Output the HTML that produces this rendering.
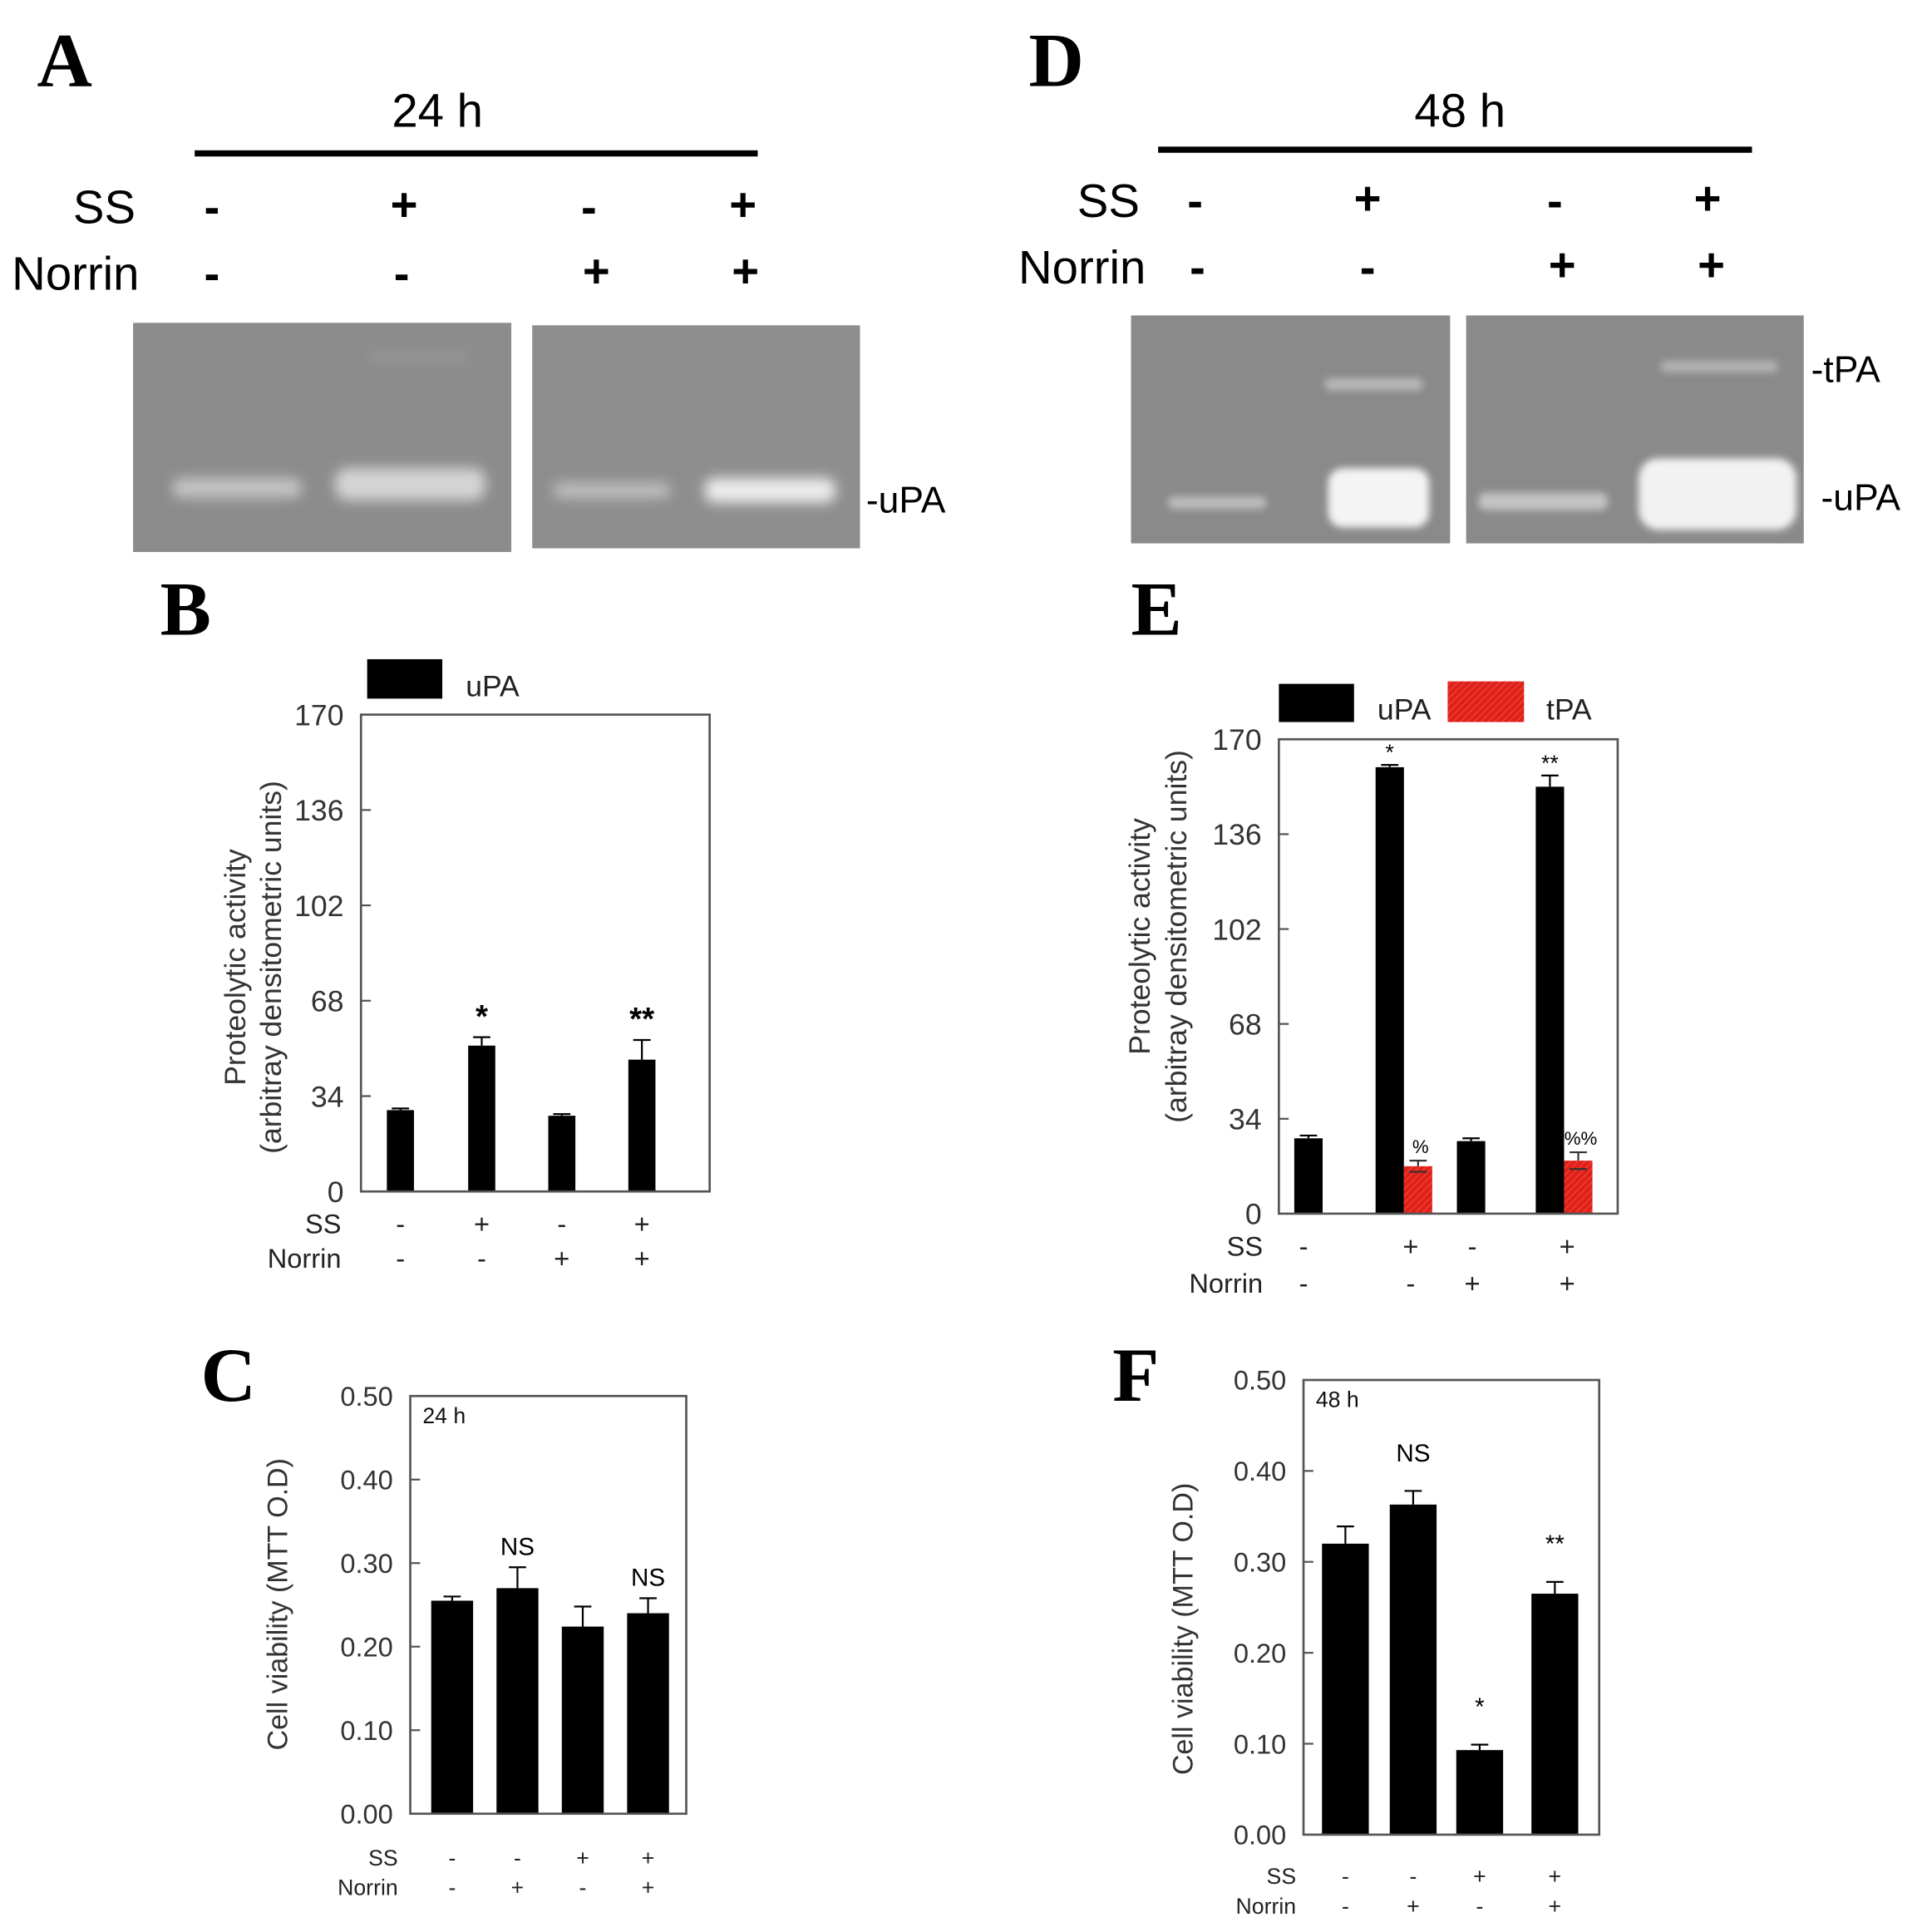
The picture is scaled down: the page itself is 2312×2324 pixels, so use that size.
<!DOCTYPE html>
<html><head><meta charset="utf-8"><style>
html,body{margin:0;padding:0;background:#fff;}
svg{display:block;}
text{font-family:"Liberation Sans",sans-serif;}
.big{font-family:"Liberation Serif",serif;font-weight:bold;font-size:62px;}
</style></head><body>
<svg id="fig" width="2312" height="2324" viewBox="0 0 1560 1568" preserveAspectRatio="none" xmlns="http://www.w3.org/2000/svg">
<defs>
<filter id="blur" x="-50%" y="-200%" width="200%" height="500%"><feGaussianBlur stdDeviation="5"/></filter>
<filter id="blur2" x="-50%" y="-200%" width="200%" height="500%"><feGaussianBlur stdDeviation="3"/></filter>
<pattern id="hatch" width="4" height="4" patternUnits="userSpaceOnUse" patternTransform="rotate(45)"><rect width="4" height="4" fill="#e0201a"/><line x1="0" y1="0" x2="0" y2="4" stroke="#f06050" stroke-width="1"/></pattern>
</defs>

<g>
<text class="big" x="30" y="70">A</text>
<text x="355" y="103" font-size="38" text-anchor="middle">24 h</text>
<rect x="158" y="122" width="457" height="5" fill="#000"/>
<text x="110" y="181" font-size="38" text-anchor="end">SS</text>
<text x="113" y="235" font-size="38" text-anchor="end">Norrin</text>
<g font-size="38" text-anchor="middle" font-weight="bold">
<text x="172" y="181">-</text><text x="328" y="179">+</text><text x="478" y="181">-</text><text x="603" y="179">+</text>
<text x="172" y="235">-</text><text x="326" y="235">-</text><text x="484" y="233">+</text><text x="605" y="233">+</text>
</g>
<rect x="108" y="262" width="307" height="186" fill="#8c8c8c"/>
<rect x="432" y="264" width="266" height="181" fill="#8e8e8e"/>
<g filter="url(#blur)">
<rect x="140" y="388" width="105" height="16" rx="8" fill="#c4c4c4"/>
<rect x="272" y="380" width="122" height="26" rx="10" fill="#d4d4d4"/>
<rect x="449" y="392" width="95" height="12" rx="6" fill="#c0c0c0"/>
<rect x="572" y="388" width="106" height="20" rx="8" fill="#ececec"/>
<rect x="300" y="287" width="80" height="6" fill="#9a9a9a"/>
</g>
<text x="703" y="416" font-size="30">-uPA</text>
</g>

<g>
<text class="big" x="835" y="70">D</text>
<text x="1185" y="103" font-size="38" text-anchor="middle">48 h</text>
<rect x="940" y="119" width="482" height="5" fill="#000"/>
<text x="925" y="176" font-size="38" text-anchor="end">SS</text>
<text x="930" y="230" font-size="38" text-anchor="end">Norrin</text>
<g font-size="38" text-anchor="middle" font-weight="bold">
<text x="970" y="176">-</text><text x="1110" y="174">+</text><text x="1262" y="176">-</text><text x="1386" y="174">+</text>
<text x="972" y="230">-</text><text x="1110" y="230">-</text><text x="1268" y="228">+</text><text x="1389" y="228">+</text>
</g>
<rect x="918" y="256" width="259" height="185" fill="#8a8a8a"/>
<rect x="1190" y="256" width="274" height="185" fill="#8a8a8a"/>
<g filter="url(#blur2)">
<rect x="948" y="403" width="80" height="10" rx="5" fill="#bdbdbd"/>
<rect x="1075" y="307" width="80" height="10" rx="5" fill="#b8b8b8"/>
<rect x="1078" y="380" width="82" height="48" rx="12" fill="#f4f4f4"/>
<rect x="1200" y="400" width="105" height="14" rx="6" fill="#c4c4c4"/>
<rect x="1348" y="293" width="95" height="9" rx="4" fill="#b4b4b4"/>
<rect x="1330" y="372" width="128" height="58" rx="16" fill="#f2f2f2"/>
</g>
<text x="1470" y="310" font-size="30">-tPA</text>
<text x="1478" y="414" font-size="30">-uPA</text>
</g>

<text class="big" x="130" y="515">B</text>
<text class="big" x="918" y="515">E</text>
<text class="big" x="163" y="1137">C</text>
<text class="big" x="903" y="1137">F</text>

<g id="charts"></g>
</svg>
<script>
// Panel B data
const bCategories = ["ctrl", "SS", "Norrin", "SS+Norrin"];
const bUPA = [29, 52, 27, 47];
const bUPAErr = [0.6, 3, 0.6, 7];
const bTicks = ["0", "34", "68", "102", "136", "170"];
const bTickValues = [0, 34, 68, 102, 136, 170];
const bSig = ["", "*", "", "**"];
const bSS = ["-", "+", "-", "+"];
const bNorrin = ["-", "-", "+", "+"];

// Panel E data
const eCategories = ["ctrl", "SS", "Norrin", "SS+Norrin"];
const eUPA = [27, 160, 26, 153];
const eUPAErr = [1, 0.8, 1, 4];
const eTPA = [null, 17, null, 19];
const eTPAErr = [0, 2, 0, 3];
const eTicks = ["0", "34", "68", "102", "136", "170"];
const eTickValues = [0, 34, 68, 102, 136, 170];
const eSigU = ["", "*", "", "**"];
const eSigT = ["", "%", "", "%%"];
const eSS = ["-", "+", "-", "+"];
const eNorrin = ["-", "-", "+", "+"];

// Panel C data
const cCategories = ["ctrl", "Norrin", "SS", "SS+Norrin"];
const cViability = [0.255, 0.270, 0.224, 0.240];
const cErr = [0.005, 0.025, 0.024, 0.018];
const cTicks = ["0.00", "0.10", "0.20", "0.30", "0.40", "0.50"];
const cTickValues = [0, 0.1, 0.2, 0.3, 0.4, 0.5];
const cSig = ["", "NS", "", "NS"];
const cSS = ["-", "-", "+", "+"];
const cNorrin = ["-", "+", "-", "+"];

// Panel F data
const fCategories = ["ctrl", "Norrin", "SS", "SS+Norrin"];
const fViability = [0.320, 0.363, 0.093, 0.265];
const fErr = [0.019, 0.015, 0.006, 0.013];
const fTicks = ["0.00", "0.10", "0.20", "0.30", "0.40", "0.50"];
const fTickValues = [0, 0.1, 0.2, 0.3, 0.4, 0.5];
const fSig = ["", "NS", "*", "**"];
const fSS = ["-", "-", "+", "+"];
const fNorrin = ["-", "+", "-", "+"];

const NS = "http://www.w3.org/2000/svg";
const root = document.getElementById("charts");
function mk(tag, attrs, parent) {
  const e = document.createElementNS(NS, tag);
  for (const k in attrs) e.setAttribute(k, attrs[k]);
  (parent || root).appendChild(e);
  return e;
}
function txt(str, attrs, parent) { const t = mk("text", attrs, parent); t.textContent = str; return t; }

function drawChart(cfg) {
  const g = mk("g", {});
  
  
  const yMax = cfg.tickValues[cfg.tickValues.length - 1];
  const y = v => cfg.bottom - (v / yMax) * (cfg.bottom - cfg.top);
  const x = i => cfg.centers[i];
  cfg.tickValues.forEach((v, i) => {
    if (i > 0 && i < cfg.tickValues.length - 1) {
      const tk = mk("line", {x1: cfg.left, x2: cfg.left + 8, y1: y(v), y2: y(v), stroke: "#555", "stroke-width": 1.5}, g);
      
      
    }
    const tl = txt(cfg.ticks[i], {x: cfg.left - 14, y: y(v) + cfg.fs * 0.36, "font-size": cfg.fs, "text-anchor": "end", fill: "#333"}, g);
    
    
  });
  cfg.series.forEach(s => {
    s.values.forEach((v, i) => {
      if (v === null) return;
      const cx = x(i) + s.offset;
      const b = mk("rect", {x: cx - cfg.bw / 2, y: y(v), width: cfg.bw, height: cfg.bottom - y(v), fill: s.fill}, g);
      
      
      const e = s.err[i];
      if (e > 0) {
        const eg = mk("g", {stroke: s.errColor || "#000", "stroke-width": 1.5}, g);
        
        
        mk("line", {x1: cx, x2: cx, y1: y(v), y2: y(v + e)}, eg);
        mk("line", {x1: cx - 7, x2: cx + 7, y1: y(v + e), y2: y(v + e)}, eg);
        if (s.lowerErr) mk("line", {x1: cx - 7, x2: cx + 7, y1: y(v - e), y2: y(v - e)}, eg);
      }
      const sig = s.sig ? s.sig[i] : "";
      if (sig) {
        const st = txt(sig, {x: cx + (s.sigDx || 0), y: y(v + e) - s.sigGap, "font-size": s.sigFs, "text-anchor": "middle", fill: s.sigColor || "#000", "font-weight": s.sigBold ? "bold" : "normal"}, g);
        
        
      }
    });
  });
  const fr = mk("rect", {x: cfg.left, y: cfg.top, width: cfg.right - cfg.left, height: cfg.bottom - cfg.top, fill: "none", stroke: "#555", "stroke-width": 1.8}, g);
  
  
  cfg.yTitle.forEach((line, k) => {
    const tx = cfg.yTitleX + k * cfg.yTitleGap;
    const yt = txt(line, {x: tx, y: cfg.yTitleY, "font-size": cfg.titleFs, "text-anchor": "middle", fill: "#333", transform: `rotate(-90 ${tx} ${cfg.yTitleY})`}, g);
    
    
  });
  const mc = cfg.markCenters || cfg.centers;
  [[cfg.ssLabel, cfg.ss, cfg.ssY], ["Norrin", cfg.norrin, cfg.norrinY]].forEach(([lab, arr, ry], r) => {
    const l = txt(lab, {x: cfg.rowLabelX, y: ry, "font-size": cfg.rowFs, "text-anchor": "end", fill: "#222"}, g);
    
    
    arr.forEach((m, i) => {
      const t = txt(m, {x: mc[i], y: ry, "font-size": cfg.rowFs, "text-anchor": "middle", fill: "#222"}, g);
      
      
    });
  });
  if (cfg.inset) {
    const it = txt(cfg.inset, {x: cfg.left + 10, y: cfg.top + 22, "font-size": 18, fill: "#111"}, g);
    
    
  }
  return g;
}

drawChart({name: "chart-b", left: 293, right: 576, top: 580, bottom: 967, centers: [325, 391, 456, 521], bw: 22,
  ticks: bTicks, tickValues: bTickValues, fs: 24, titleFs: 24,
  series: [{key: "upa", values: bUPA, err: bUPAErr, fill: "#000", offset: 0, sig: bSig, sigGap: 8, sigFs: 26, sigBold: true}],
  yTitle: ["Proteolytic activity", "(arbitray densitometric units)"], yTitleX: 199, yTitleGap: 29, yTitleY: 785,
  ss: bSS, norrin: bNorrin, ssLabel: "SS", ssY: 1001, norrinY: 1029, rowLabelX: 277, rowFs: 22});
(function(){
  const g = mk("g", {});
  
  
  mk("rect", {x: 298, y: 535, width: 61, height: 32, fill: "#000"}, g);
  txt("uPA", {x: 378, y: 565, "font-size": 24, fill: "#222"}, g);
})();

drawChart({name: "chart-e", left: 1038, right: 1313, top: 600, bottom: 985, centers: [1062, 1128, 1194, 1258], bw: 23,
  markCenters: [1058, 1145, 1195, 1272],
  ticks: eTicks, tickValues: eTickValues, fs: 24, titleFs: 24,
  series: [
    {key: "upa", values: eUPA, err: eUPAErr, fill: "#000", offset: 0, sig: eSigU, sigGap: 4, sigFs: 18, sigBold: false},
    {key: "tpa", values: eTPA, err: eTPAErr, fill: "url(#hatch)", offset: 23, sig: eSigT, sigGap: 6, sigFs: 15, sigDx: 2, errColor: "#333", lowerErr: true}
  ],
  yTitle: ["Proteolytic activity", "(arbitray densitometric units)"], yTitleX: 933, yTitleGap: 30, yTitleY: 760,
  ss: eSS, norrin: eNorrin, ssLabel: "SS", ssY: 1019, norrinY: 1049, rowLabelX: 1025, rowFs: 22});
(function(){
  const g = mk("g", {});
  
  
  mk("rect", {x: 1038, y: 555, width: 61, height: 31, fill: "#000"}, g);
  txt("uPA", {x: 1118, y: 584, "font-size": 24, fill: "#222"}, g);
  mk("rect", {x: 1175, y: 553, width: 62, height: 33, fill: "url(#hatch)"}, g);
  txt("tPA", {x: 1255, y: 584, "font-size": 24, fill: "#222"}, g);
})();

drawChart({name: "chart-c", left: 333, right: 557, top: 1133, bottom: 1472, centers: [367, 420, 473, 526], bw: 34,
  ticks: cTicks, tickValues: cTickValues, fs: 22, titleFs: 23,
  series: [{key: "viability", values: cViability, err: cErr, fill: "#000", offset: 0, sig: cSig, sigGap: 10, sigFs: 20}],
  yTitle: ["Cell viability (MTT O.D)"], yTitleX: 233, yTitleGap: 0, yTitleY: 1302,
  ss: cSS, norrin: cNorrin, ssLabel: "SS", ssY: 1514, norrinY: 1538, rowLabelX: 323, rowFs: 18, inset: "24 h"});

drawChart({name: "chart-f", left: 1058, right: 1298, top: 1120, bottom: 1489, centers: [1092, 1147, 1201, 1262], bw: 38,
  ticks: fTicks, tickValues: fTickValues, fs: 22, titleFs: 23,
  series: [{key: "viability", values: fViability, err: fErr, fill: "#000", offset: 0, sig: fSig, sigGap: 24, sigFs: 20}],
  yTitle: ["Cell viability (MTT O.D)"], yTitleX: 968, yTitleGap: 0, yTitleY: 1322,
  ss: fSS, norrin: fNorrin, ssLabel: "SS", ssY: 1529, norrinY: 1553, rowLabelX: 1052, rowFs: 18, inset: "48 h"});
</script>
</body></html>
